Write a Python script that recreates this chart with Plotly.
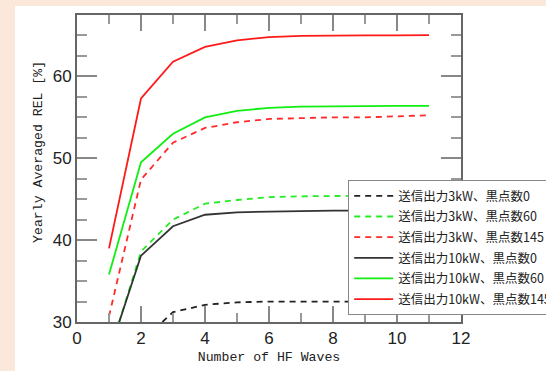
import plotly.graph_objects as go

x_waves = [1, 2, 3, 4, 5, 6, 7, 8, 9, 10, 11]

rel_3kw_0 = [20.0, 27.6, 31.2, 32.1, 32.4, 32.5, 32.5, 32.5, 32.5, 32.5, 32.5]
rel_3kw_60 = [26.0, 38.6, 42.5, 44.45, 44.9, 45.25, 45.35, 45.4, 45.45, 45.45, 45.5]
rel_3kw_145 = [30.7, 47.4, 51.9, 53.7, 54.4, 54.8, 54.9, 55.0, 55.0, 55.1, 55.25]
rel_10kw_0 = [26.2, 38.1, 41.7, 43.1, 43.4, 43.5, 43.55, 43.6, 43.6, 43.6, 43.6]
rel_10kw_60 = [35.8, 49.5, 53.0, 55.0, 55.8, 56.15, 56.3, 56.35, 56.35, 56.4, 56.4]
rel_10kw_145 = [39.0, 57.3, 61.8, 63.6, 64.4, 64.8, 64.95, 65.0, 65.0, 65.0, 65.05]

series_names = [
    "送信出力3kW、黒点数0",
    "送信出力3kW、黒点数60",
    "送信出力3kW、黒点数145",
    "送信出力10kW、黒点数0",
    "送信出力10kW、黒点数60",
    "送信出力10kW、黒点数145",
]
series_values = [rel_3kw_0, rel_3kw_60, rel_3kw_145, rel_10kw_0, rel_10kw_60, rel_10kw_145]
series_colors = ["#222222", "#22ee22", "#ff2a2a", "#333333", "#11ee11", "#ff1a1a"]
series_dash = ["6px,5px", "6px,5px", "6px,5px", "solid", "solid", "solid"]

x_title = "Number of HF Waves"
y_title = "Yearly Averaged REL [%]"

fig = go.Figure()
for i, (name, vals, col, dsh) in enumerate(zip(series_names, series_values, series_colors, series_dash)):
    fig.add_trace(go.Scatter(
        x=x_waves, y=vals, mode="lines", name=name, legendgroup=f"g{i}",
        line=dict(color=col, width=1.8, dash=dsh),
    ))

tick_font = dict(family="Liberation Sans Narrow, Arial Narrow, Liberation Sans, sans-serif",
                 size=17, color="#222222")
title_font = dict(family="Liberation Mono, DejaVu Sans Mono, monospace", size=13.2, color="#222222")

fig.update_layout(
    width=546, height=371,
    margin=dict(l=77, r=85, t=15, b=49, autoexpand=False),
    paper_bgcolor="#fce8da",
    plot_bgcolor="white",
    showlegend=True,
    legend=dict(
        x=0.7057, y=0.4625, xanchor="left", yanchor="top",
        bgcolor="white", bordercolor="#888888", borderwidth=1.2,
        font=dict(family="Noto Sans CJK JP, sans-serif", size=12.5, color="#222222"),
        itemwidth=39, tracegroupgap=1.4,
    ),
    xaxis=dict(
        range=[0, 12], tick0=0, dtick=2, automargin=False,
        ticks="inside", ticklen=16, tickwidth=1.5, tickcolor="#888888",
        minor=dict(dtick=1, ticks="inside", ticklen=9, tickwidth=1.5, tickcolor="#999999"),
        showline=True, linecolor="#666666", linewidth=2, mirror="ticks",
        showgrid=False, zeroline=False,
        tickfont=tick_font,
        title=dict(text=x_title, font=title_font, standoff=4),
    ),
    yaxis=dict(
        range=[30, 67.5], tick0=30, dtick=10, automargin=False,
        ticks="inside", ticklen=20, tickwidth=1.5, tickcolor="#888888",
        minor=dict(dtick=2.5, tick0=30, ticks="inside", ticklen=10, tickwidth=1.5, tickcolor="#999999"),
        showline=True, linecolor="#666666", linewidth=2, mirror="ticks",
        showgrid=False, zeroline=False,
        tickfont=tick_font,
    ),
    annotations=[
        dict(text=y_title, xref="paper", yref="paper", x=-0.099, y=0.554,
             xanchor="center", yanchor="middle", textangle=-90, showarrow=False,
             font=title_font),
    ],
    shapes=[
        dict(type="rect", xref="paper", yref="paper",
             x0=-0.1615, x1=1.25, y0=-0.2, y1=1.029,
             fillcolor="white", line=dict(width=0), layer="below"),
    ],
)

fig.write_html("out.html", config={"displayModeBar": False},
               post_script="document.body.style.margin='0';")
